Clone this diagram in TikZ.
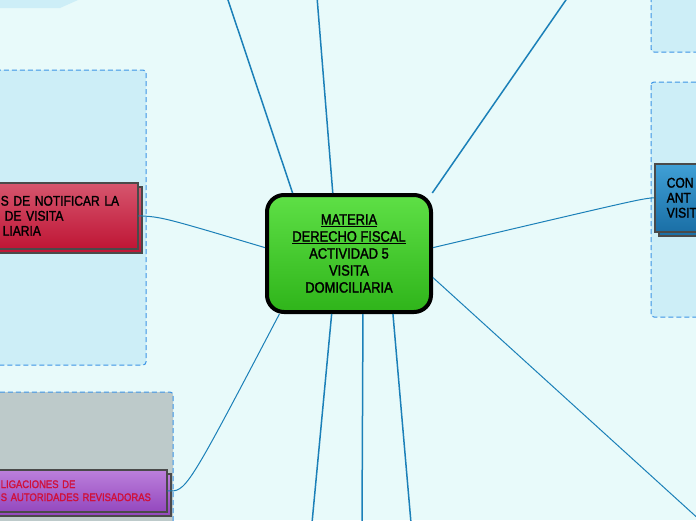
\documentclass[tikz,border=0pt]{standalone}
\usepackage{fontspec}
\setmainfont{Liberation Sans}[FakeStretch=0.86, FakeBold=1.6]
\usepackage{xcolor}
\usepackage{tikz}
\usetikzlibrary{shadows,calc}
\definecolor{bgcyan}{HTML}{E8FAFA}
\definecolor{panelblue}{HTML}{CDEEF7}
\definecolor{panelgray}{HTML}{BDCACA}
\definecolor{dashblue}{HTML}{3C94E6}
\definecolor{linkblue}{HTML}{1B80B8}
\definecolor{boxgray}{HTML}{4A4A4A}
\definecolor{greentop}{HTML}{5EE046}
\definecolor{greenbot}{HTML}{2FB41A}
\definecolor{redtop}{HTML}{D6566E}
\definecolor{redbot}{HTML}{BF1535}
\definecolor{bluetop}{HTML}{40A0D6}
\definecolor{bluebot}{HTML}{1A6FA6}
\definecolor{purpletop}{HTML}{BC80DC}
\definecolor{purplebot}{HTML}{9448BE}
\definecolor{textred}{HTML}{D0103A}

\begin{document}
\begin{tikzpicture}[
    x=1pt, y=-1pt,
    panel/.style={fill=panelblue, draw=dashblue, line width=1pt, dash pattern=on 5pt off 3pt, rounded corners=3pt},
    base/.style={draw=boxgray, line width=1.5pt, inner ysep=0pt, align=left},
    twin/.style 2 args={general shadow={shadow xshift=4pt, shadow yshift=-4pt, top color=#1, bottom color=#2,
        draw=boxgray, line width=1.5pt}, top color=#1, bottom color=#2},
    topic/.style={draw=black, line width=4pt, rounded corners=17pt, top color=greentop, bottom color=greenbot,
        minimum width=164pt, minimum height=117pt, inner sep=0pt, align=center, font=\fontsize{15}{17}\selectfont},
    branchred/.style={base, twin={redtop}{redbot}, inner xsep=8pt, text width=129pt,
        minimum height=66pt, font=\fontsize{14}{15}\selectfont},
    branchblue/.style={base, twin={bluetop}{bluebot}, inner xsep=12pt, text width=80pt,
        minimum height=68pt, font=\fontsize{14}{15}\selectfont},
    branchpurple/.style={base, twin={purpletop}{purplebot}, inner xsep=8pt, text width=158pt,
        minimum height=42pt, text=textred, font=\fontsize{11}{13}\selectfont},
    link/.style={draw=linkblue, line width=1.5pt},
    thin/.style={draw=linkblue, line width=1pt}
]

\useasboundingbox (0,0) rectangle (696,520);
\clip (0,0) rectangle (696,520);
\fill[bgcyan] (0,0) rectangle (696,520);

% Panels
\fill[panelblue] (0,0) -- (78,0) -- (60,8) -- (0,8) -- cycle;
\path[panel] (-6,70) rectangle (146,365);
\path[panel] (651,-6) rectangle (702,52);
\path[panel] (651,82) rectangle (702,317);
\path[panel, fill=panelgray] (-6,392) rectangle (173,526);

% Nodes
\node (topic) [topic] at (349,253.5) {
    \underline{MATERIA}\\
    \underline{DERECHO FISCAL}\\
    ACTIVIDAD 5\\
    VISITA\\
    DOMICILIARIA
};

\node (notif) [branchred, anchor=north west] at (-8,182) {
    S DE NOTIFICAR LA\\
    \hspace*{4pt}DE VISITA\\
    \hspace*{2pt}LIARIA
};

\node (content) [branchblue, anchor=north west] at (654,163) {
    CON\\
    ANT\\
    VISIT
};

\node (oblig) [branchpurple, anchor=north west] at (-8,469) {
    LIGACIONES DE\\
    S AUTORIDADES REVISADORAS
};

\coordinate (upA) at (227,-3);
\coordinate (upB) at (317,-3);
\coordinate (upC) at (568,-3);
\coordinate (downA) at (312,523);
\coordinate (downB) at (362,523);
\coordinate (downC) at (411,523);
\coordinate (farSE) at (702,522);

% Connectors
\draw [link] (topic.133.3) -- (upA);
\draw [link] (topic.105.7) -- (upB);
\draw [link] (topic.36.9) -- (upC);
\draw [link] (topic.-106.6) -- (downA);
\draw [link] (topic.-77.9) -- (downB);
\draw [link] (topic.-54.6) -- (downC);
\draw [thin] (topic.-16.3) -- (farSE);
\draw [thin] (notif.east) .. controls (162,217) .. (topic.176.3);
\draw [thin] (content.west) .. controls (640,199) .. (topic.4.4);
\draw [thin] (oblig.east) .. controls (186,492) .. (topic.-139.3);

\end{tikzpicture}
\end{document}
